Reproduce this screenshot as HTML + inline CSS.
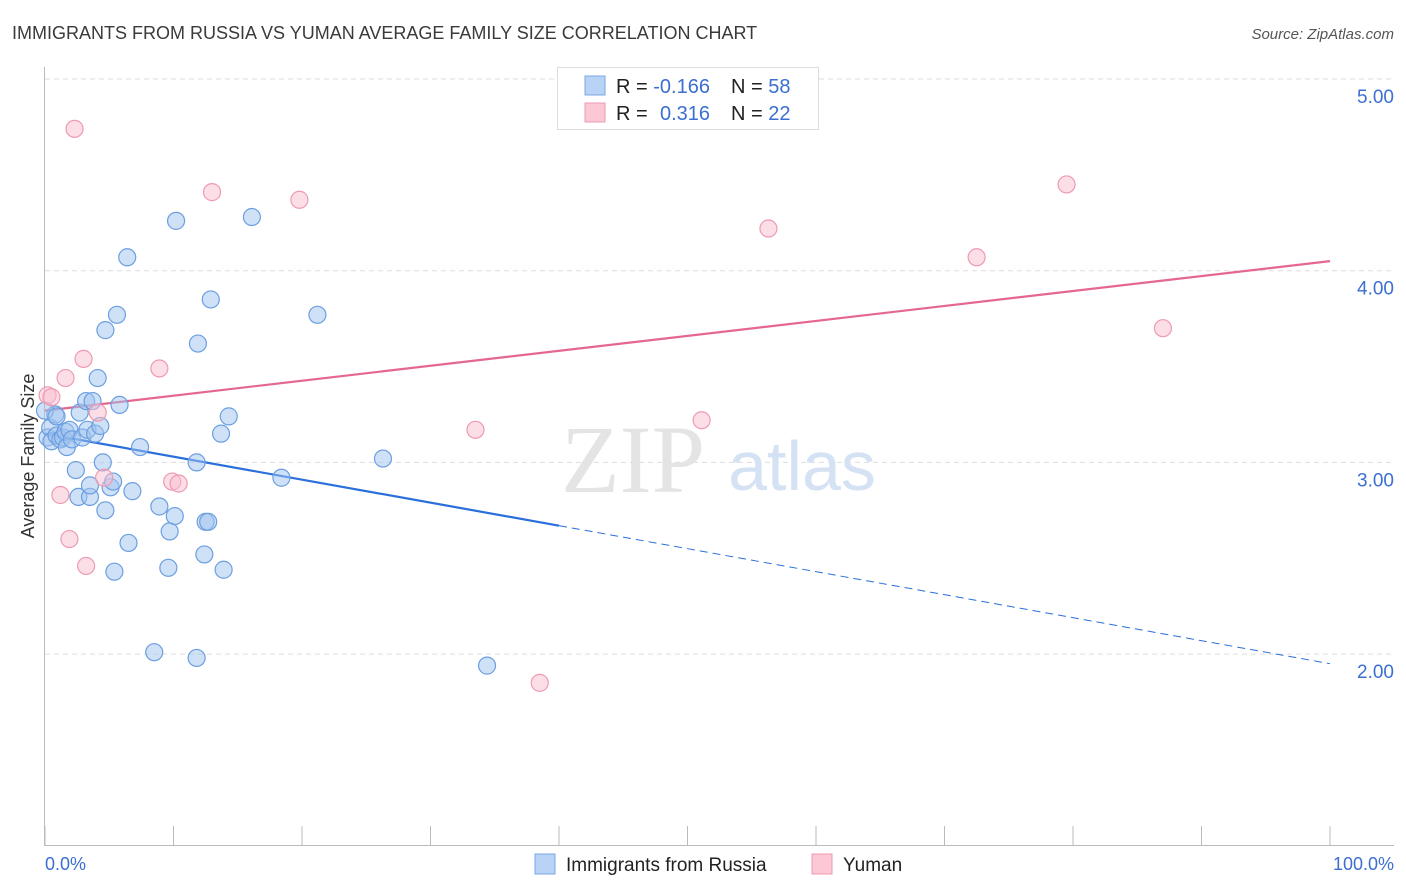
<!DOCTYPE html>
<html><head><meta charset="utf-8"><style>
body{margin:0;background:#fff;font-family:"Liberation Sans",sans-serif;}
svg{display:block}
</style></head><body>
<svg id="chart" width="1406" height="892" xmlns="http://www.w3.org/2000/svg">
<text x="12" y="39" font-size="18" fill="#3a3a3a">IMMIGRANTS FROM RUSSIA VS YUMAN AVERAGE FAMILY SIZE CORRELATION CHART</text>
<text x="1394" y="39" font-size="15" fill="#555" font-style="italic" text-anchor="end">Source: ZipAtlas.com</text>
<g id="grid"></g>
<text x="633" y="492" font-size="96" fill="#e4e4e4" font-family="Liberation Serif,serif" text-anchor="middle">ZIP</text>
<text x="802" y="490" font-size="70" fill="#d5e2f4" text-anchor="middle">atlas</text>
<g id="lines"></g>
<g id="pts"></g>
<text transform="translate(34,456) rotate(-90)" font-size="18" fill="#333" text-anchor="middle">Average Family Size</text>
<text x="45" y="870" font-size="18" fill="#3b6fd1">0.0%</text>
<text x="1394" y="870" font-size="18" fill="#3b6fd1" text-anchor="end">100.0%</text>
<g>
<rect x="557.5" y="67.5" width="261" height="62" fill="#fff" stroke="#ddd"/>
<rect x="585" y="76" width="20" height="19" fill="#b8d3f5" stroke="#7aa7e6"/>
<rect x="585" y="103" width="20" height="19" fill="#fcc8d6" stroke="#ee9ab2"/>
<text x="616" y="93" font-size="20" fill="#222">R = <tspan fill="#3b6fd1">-0.166</tspan><tspan x="731">N = </tspan><tspan fill="#3b6fd1">58</tspan></text>
<text x="616" y="120" font-size="20" fill="#222">R = <tspan x="660" fill="#3b6fd1">0.316</tspan><tspan x="731">N = </tspan><tspan fill="#3b6fd1">22</tspan></text>
</g>
<g>
<rect x="535" y="854" width="20" height="20" fill="#b8d3f5" stroke="#7aa7e6"/>
<text x="566" y="871" font-size="19" fill="#222">Immigrants from Russia</text>
<rect x="812" y="854" width="20" height="20" fill="#fcc8d6" stroke="#ee9ab2"/>
<text x="843" y="871" font-size="19" fill="#222">Yuman</text>
</g>
</svg>
<script>
const yTicks=[2,3,4,5];
const yTickLabels=["2.00","3.00","4.00","5.00"];
const xTicks=[0,10,20,30,40,50,60,70,80,90,100];
const russiaX=[0.2,0.4,0.5,0.8,0.9,1.2,1.4,1.6,1.7,1.9,2.1,2.4,2.6,2.7,2.9,3.2,3.3,3.5,3.5,3.7,3.9,4.1,4.3,4.5,4.7,4.7,5.1,5.3,5.4,5.6,5.8,6.4,6.5,6.8,7.4,8.5,8.9,9.6,9.7,10.1,10.2,11.8,11.9,11.8,12.4,12.5,12.7,12.9,13.7,13.9,14.3,16.1,18.4,21.2,26.3,34.4,0,0.9];
const russiaY=[3.13,3.18,3.11,3.25,3.14,3.12,3.13,3.16,3.08,3.17,3.12,2.96,2.82,3.26,3.13,3.32,3.17,2.82,2.88,3.32,3.15,3.44,3.19,3.00,2.75,3.69,2.87,2.90,2.43,3.77,3.30,4.07,2.58,2.85,3.08,2.01,2.77,2.45,2.64,2.72,4.26,3.00,3.62,1.98,2.52,2.69,2.69,3.85,3.15,2.44,3.24,4.28,2.92,3.77,3.02,1.94,3.27,3.24];
const yumanX=[2.3,13.0,19.8,3.0,1.6,8.9,0.2,0.5,4.1,1.2,1.9,3.2,4.6,9.9,10.4,33.5,38.5,51.1,56.3,72.5,79.5,87.0];
const yumanY=[4.74,4.41,4.37,3.54,3.44,3.49,3.35,3.34,3.26,2.83,2.60,2.46,2.92,2.90,2.89,3.17,1.85,3.22,4.22,4.07,4.45,3.70];
const russiaTrend=[3.15,1.95];
const yumanTrend=[3.27,4.05];
const russiaSolidEnd=40;

const NS="http://www.w3.org/2000/svg";
const X=v=>45+v*12.85;
const Y=v=>79+(5-v)*191.7;
function mk(tag,attrs,parent){const e=document.createElementNS(NS,tag);for(const k in attrs)e.setAttribute(k,attrs[k]);parent.appendChild(e);return e;}
const grid=document.getElementById('grid');
yTicks.forEach((t,i)=>{
 const l=mk('line',{x1:45,x2:1394,y1:Y(t),y2:Y(t),stroke:'#ddd','stroke-dasharray':'5,4'},grid);
 
 
 const tx=mk('text',{x:1394,y:Y(t)+24,'font-size':19,fill:'#3b6fd1','text-anchor':'end'},grid);
 tx.textContent=yTickLabels[i];
 
 
});
const ya=mk('line',{x1:44.5,x2:44.5,y1:67,y2:845,stroke:'#bbb'},grid);


const xa=mk('line',{x1:44,x2:1394,y1:845.5,y2:845.5,stroke:'#bbb'},grid);


xTicks.forEach(t=>{
 const l=mk('line',{x1:X(t),x2:X(t),y1:826,y2:845,stroke:'#bbb'},grid);
 
 
});
const pts=document.getElementById('pts');
russiaX.forEach((x,i)=>{
 const c=mk('circle',{cx:X(x),cy:Y(russiaY[i]),r:8.5,fill:'rgba(160,196,240,0.5)',stroke:'#6c9fe0','stroke-width':1.2},pts);
 
 
});
yumanX.forEach((x,i)=>{
 const c=mk('circle',{cx:X(x),cy:Y(yumanY[i]),r:8.5,fill:'rgba(250,190,208,0.5)',stroke:'#ee9ab2','stroke-width':1.2},pts);
 
 
});
const lines=document.getElementById('lines');
const rAt=v=>russiaTrend[0]+(russiaTrend[1]-russiaTrend[0])*v/100;
const l1=mk('line',{x1:X(0),y1:Y(rAt(0)),x2:X(russiaSolidEnd),y2:Y(rAt(russiaSolidEnd)),stroke:'#2a6fdb','stroke-width':2.2},lines);


const l2=mk('line',{x1:X(russiaSolidEnd),y1:Y(rAt(russiaSolidEnd)),x2:X(100),y2:Y(rAt(100)),stroke:'#2a6fdb','stroke-width':1,'stroke-dasharray':'8,5'},lines);


const l3=mk('line',{x1:X(0),y1:Y(yumanTrend[0]),x2:X(100),y2:Y(yumanTrend[1]),stroke:'#e5678f','stroke-width':2.2},lines);


</script>
</body></html>
